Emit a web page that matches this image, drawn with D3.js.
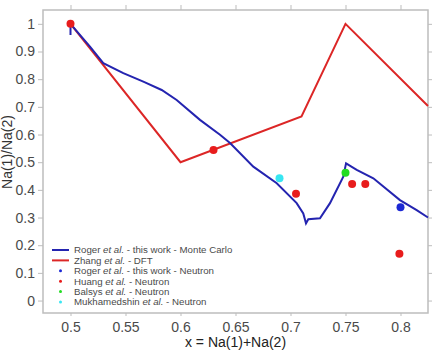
<!DOCTYPE html>
<html>
<head>
<meta charset="utf-8">
<script src="https://cdn.jsdelivr.net/npm/d3@7"></script>
<style>
  body { margin: 0; background: #fff; }
  svg { font-family: Arial, "Liberation Sans", sans-serif; }
</style>
</head>
<body>
<svg width="437" height="354"></svg>
<script>
// Monte Carlo (Roger et al.)
var mcX = [0.5, 0.5, 0.5177, 0.5298, 0.548, 0.5662, 0.5829, 0.5965, 0.6177, 0.6359, 0.645, 0.6662, 0.6875, 0.7056, 0.7116, 0.7141, 0.7162, 0.7268, 0.7359, 0.748, 0.7505, 0.7602, 0.7753, 0.7995, 0.8147, 0.825];
var mcY = [0.96, 1.0, 0.918, 0.858, 0.822, 0.791, 0.761, 0.725, 0.653, 0.599, 0.569, 0.484, 0.424, 0.352, 0.315, 0.279, 0.294, 0.297, 0.352, 0.448, 0.496, 0.472, 0.442, 0.363, 0.327, 0.30];
// DFT (Zhang et al.)
var dftX = [0.5, 0.6, 0.71, 0.75, 0.825];
var dftY = [1.0, 0.5, 0.665, 1.0, 0.703];
// neutron data
var rogerX = [0.8], rogerY = [0.337];
var huangX = [0.5, 0.63, 0.705, 0.756, 0.768, 0.799];
var huangY = [1.0, 0.544, 0.386, 0.421, 0.421, 0.169];
var balsysX = [0.75], balsysY = [0.462];
var mukhX = [0.69], mukhY = [0.442];

var xTicks = [0.5, 0.55, 0.6, 0.65, 0.7, 0.75, 0.8];
var yTicks = [0, 0.1, 0.2, 0.3, 0.4, 0.5, 0.6, 0.7, 0.8, 0.9, 1];

var blue = "#2424b0", red = "#dc2626";

var svg = d3.select("svg"),
    pl = 43, pr = 428, pt = 10, pb = 313;

var x = d3.scaleLinear().domain([0.475, 0.825]).range([pl, pr]);
var y = d3.scaleLinear().domain([-0.045, 1.05]).range([pb, pt]);

var axisColor = "#bdbdbd", textColor = "#4a4a4a";

function styleAxis(g, labels) {
  g.select(".domain").remove();
  g.selectAll(".tick line").attr("stroke", axisColor);
  g.selectAll(".tick text").attr("fill", textColor).style("font-size", labels ? "14px" : "0px");
}

svg.append("g").attr("transform", "translate(0," + pb + ")")
  .call(d3.axisBottom(x).tickValues(xTicks).tickSize(3).tickPadding(6).tickFormat(d3.format("")))
  .call(styleAxis, true);
svg.append("g").attr("transform", "translate(0," + pt + ")")
  .call(d3.axisTop(x).tickValues(xTicks).tickSize(5).tickFormat(""))
  .call(styleAxis, false);
svg.append("g").attr("transform", "translate(" + pl + ",0)")
  .call(d3.axisLeft(y).tickValues(yTicks).tickSize(5).tickPadding(3).tickFormat(d3.format("")))
  .call(styleAxis, true);
svg.append("g").attr("transform", "translate(" + pr + ",0)")
  .call(d3.axisRight(y).tickValues(yTicks).tickSize(4).tickFormat(""))
  .call(styleAxis, false);

svg.append("rect")
  .attr("x", pl).attr("y", pt)
  .attr("width", pr - pl).attr("height", pb - pt)
  .attr("fill", "none").attr("stroke", axisColor).attr("stroke-width", 1.5);

// axis titles
svg.append("text")
  .attr("x", (pl + pr) / 2).attr("y", 347)
  .attr("text-anchor", "middle").attr("fill", "#222")
  .style("font-size", "14px")
  .text("x = Na(1)+Na(2)");
svg.append("text")
  .attr("transform", "translate(12,152) rotate(-90)")
  .attr("text-anchor", "middle").attr("fill", "#333")
  .style("font-size", "14px")
  .text("Na(1)/Na(2)");

var line = d3.line()
  .x(function (d) { return x(d[0]); })
  .y(function (d) { return y(d[1]); });

var plot = svg.append("g");

plot.append("path")
  .datum(d3.zip(dftX, dftY))
  .attr("d", line)
  .attr("fill", "none").attr("stroke", red).attr("stroke-width", 2);

plot.append("path")
  .datum(d3.zip(mcX, mcY))
  .attr("d", line)
  .attr("fill", "none").attr("stroke", blue).attr("stroke-width", 2);

var pointSets = [
  { xs: huangX, ys: huangY, color: "#e81c1c" },
  { xs: mukhX, ys: mukhY, color: "#38e6f2" },
  { xs: balsysX, ys: balsysY, color: "#22dd22" },
  { xs: rogerX, ys: rogerY, color: "#1c28d4" }
];

pointSets.forEach(function (s) {
  plot.selectAll(null)
    .data(d3.zip(s.xs, s.ys))
    .enter()
    .append("circle")
    .attr("cx", function (d) { return x(d[0]); })
    .attr("cy", function (d) { return y(d[1]); })
    .attr("r", 4)
    .attr("fill", s.color);
});

// legend
var legendItems = [
  { who: "Roger", rest: " - this work - Monte Carlo", type: "line", color: blue },
  { who: "Zhang", rest: " - DFT", type: "line", color: red },
  { who: "Roger", rest: " - this work - Neutron", type: "dot", color: "#1c28d4" },
  { who: "Huang", rest: " - Neutron", type: "dot", color: "#e81c1c" },
  { who: "Balsys", rest: " - Neutron", type: "dot", color: "#22dd22" },
  { who: "Mukhamedshin", rest: " - Neutron", type: "dot", color: "#38e6f2" }
];

var legend = svg.append("g")
  .selectAll("g")
  .data(legendItems)
  .enter()
  .append("g")
  .attr("transform", function (d, i) { return "translate(52," + (250 + i * 10.4) + ")"; });

legend.filter(function (d) { return d.type === "line"; })
  .append("line")
  .attr("x1", 0).attr("x2", 17)
  .attr("stroke", function (d) { return d.color; })
  .attr("stroke-width", 2);

legend.filter(function (d) { return d.type === "dot"; })
  .append("circle")
  .attr("cx", 8.5).attr("r", 1.5)
  .attr("fill", function (d) { return d.color; });

var lt = legend.append("text")
  .attr("x", 22).attr("dy", "0.35em")
  .attr("fill", textColor)
  .style("font-size", "9.7px");
lt.append("tspan").text(function (d) { return d.who + " "; });
lt.append("tspan").style("font-style", "italic").text("et al.");
lt.append("tspan").text(function (d) { return d.rest; });
</script>
</body>
</html>
